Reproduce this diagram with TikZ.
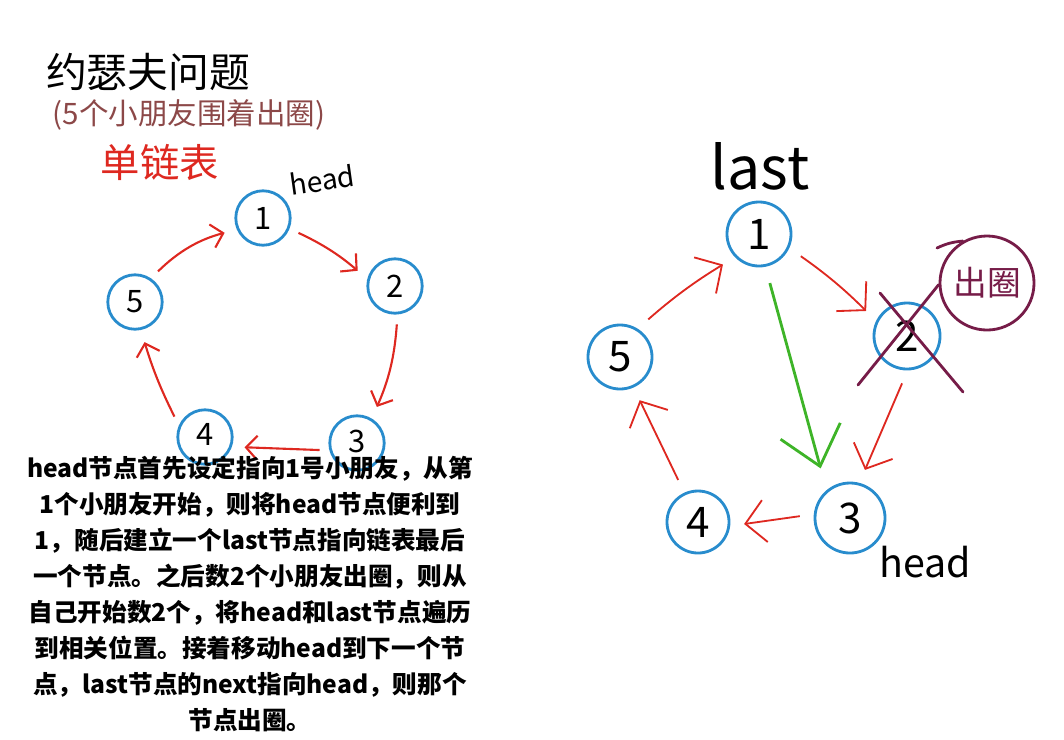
\documentclass[tikz,border=0pt]{standalone}
\usepackage{fontspec}
\setmainfont{Noto Sans CJK SC}
\usetikzlibrary{positioning,calc,arrows.meta}

\definecolor{ringblue}{RGB}{40,140,205}
\definecolor{linkred}{RGB}{222,40,32}
\definecolor{skipgreen}{RGB}{62,180,40}
\definecolor{outmaroon}{RGB}{118,28,72}
\definecolor{notebrown}{RGB}{140,72,72}

\begin{document}
\begin{tikzpicture}[x=0.025cm,y=-0.025cm,
item/.style={circle,draw=ringblue,line width=2pt,inner sep=0pt,minimum size=1.36cm,
  font=\fontsize{22}{22}\selectfont},
itemb/.style={item,minimum size=1.6cm,font=\fontsize{30}{30}\selectfont},
link/.style={draw=linkred,line width=1.5pt,-{Straight Barb[length=8pt,width=17pt]},
  shorten <=7pt,shorten >=9pt},
linkb/.style={link,line width=1.3pt,-{Straight Barb[length=14pt,width=30pt]},
  shorten <=10pt,shorten >=10pt},
skip/.style={draw=skipgreen,line width=2pt,-{Straight Barb[length=26pt,width=44pt]},
  shorten <=12pt,shorten >=16pt},
cross/.style={draw=outmaroon,line width=2pt,line cap=round}]

\useasboundingbox (0,0) rectangle (1064,739);

% titles
\node (title) at (148,72) {\fontsize{29}{29}\selectfont 约瑟夫问题};
\node[color=notebrown] (sub) at (189,115) {\fontsize{21}{21}\selectfont (5个小朋友围着出圈)};
\node[color=linkred] (kind) at (160,162) {\fontsize{28}{28}\selectfont 单链表};

% first ring
\node[item] (l1) at (263,218) {1};
\node[item] (l2) at (395,286) {2};
\node[item] (l3) at (357,443) {\raisebox{3pt}{3}};
\node[item] (l4) at (205,437) {\raisebox{3pt}{4}};
\node[item] (l5) at (135,302) {5};

\node[rotate=8] (lhead) at (322,180) {\fontsize{20}{20}\selectfont head};

\draw[link] (l1.-22) to[bend left=8] (l2.166);
\draw[link] (l2.-85) to[bend left=10] (l3.59);
\draw[link] (l3.195) -- (l4.-20);
\draw[link] (l4.156) to[bend left=5] (l5.-78);
\draw[link] (l5.56) to[bend left=15] (l1.204);

% note
\node[align=center,font=\fontsize{17.5}{25.6}\selectfont\bfseries] (note) at (250,594)
{head节点首先设定指向1号小朋友，从第\\
1个小朋友开始，则将head节点便利到\\
1，随后建立一个last节点指向链表最后\\
一个节点。之后数2个小朋友出圈，则从\\
自己开始数2个，将head和last节点遍历\\
到相关位置。接着移动head到下一个节\\
点，last节点的next指向head，则那个\\
节点出圈。};

% second ring
\node[itemb] (r1) at (759,234) {1};
\node[itemb,minimum size=1.65cm] (r2) at (907,336) {2};
\node[itemb,minimum size=1.75cm] (r3) at (850,518) {3};
\node[itemb,minimum size=1.55cm] (r4) at (698,522) {4};
\node[itemb] (r5) at (620,357) {5};

\node (last) at (760,166) {\fontsize{42}{42}\selectfont last};
\node (rhead) at (925,562) {\fontsize{28}{28}\selectfont head};

\draw[linkb] (r1.-25) to[bend left=5] (r2.154);
\draw[linkb] (r2.-89) -- (r3.75);
\draw[linkb] (r3.174) -- (r4.-7);
\draw[linkb] (r4.115) -- (r5.-66);
\draw[linkb] (r5.58) to[bend left=5] (r1.224);

\draw[skip] (r1.-79) -- (r3.130);

% removed node
\node[circle,draw=outmaroon,line width=2pt,minimum size=2.35cm,inner sep=0pt,
  text=outmaroon,font=\fontsize{24}{24}\selectfont] (out) at (987,283) {出圈};
\draw[cross] (937,248) to[bend left=10] (out.120);
\draw[cross] (880,293) -- (963,392);
\draw[cross] (858,385) -- (out.182);
\end{tikzpicture}
\end{document}
